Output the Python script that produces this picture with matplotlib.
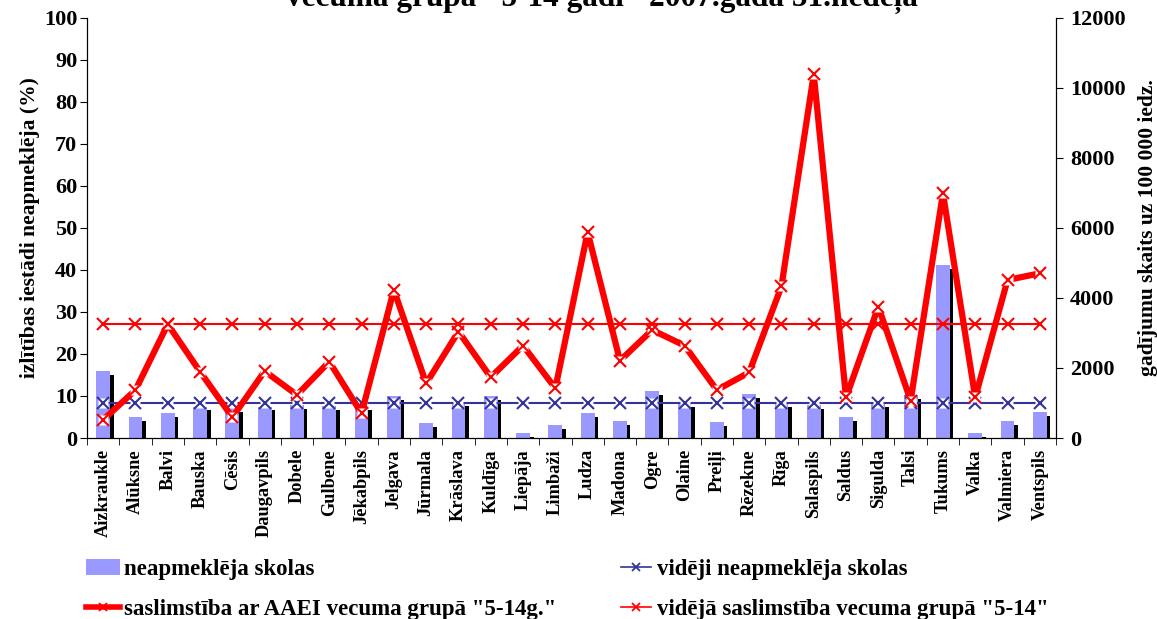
import numpy as np
import matplotlib
matplotlib.use("Agg")
import matplotlib.pyplot as plt
from matplotlib.lines import Line2D
from matplotlib.patches import Patch

plt.rcParams['font.family'] = ['Liberation Serif', 'DejaVu Serif']
plt.rcParams['font.weight'] = 'bold'

# rajoni
rajoni = ['Aizkraukle', 'Alūksne', 'Balvi', 'Bauska', 'Cēsis', 'Daugavpils', 'Dobele',
          'Gulbene', 'Jēkabpils', 'Jelgava', 'Jūrmala', 'Krāslava', 'Kuldīga', 'Liepāja',
          'Limbaži', 'Ludza', 'Madona', 'Ogre', 'Olaine', 'Preiļi', 'Rēzekne', 'Rīga',
          'Salaspils', 'Saldus', 'Sigulda', 'Talsi', 'Tukums', 'Valka', 'Valmiera', 'Ventspils']
# neapmeklēja skolas (%)
neapmekleja = [16.0, 4.9, 6.0, 7.5, 7.1, 7.5, 7.9, 7.6, 7.5, 10.1, 3.5, 8.5, 10.0, 1.3, 3.0,
               6.0, 4.0, 11.2, 8.4, 3.8, 10.4, 8.4, 7.9, 5.1, 8.4, 10.2, 41.2, 1.3, 4.0, 6.3]
videji_neapm = 8.4
# saslimstība uz 100 000 iedz.
saslimstiba = [520, 1370, 3250, 1895, 590, 1910, 1230, 2180, 705, 4230, 1560, 3040, 1735,
               2640, 1420, 5880, 2210, 3085, 2640, 1370, 1875, 4330, 10390, 1160, 3750,
               1070, 6990, 1160, 4515, 4705]
videja_sasl = 3250

x = np.arange(len(rajoni))
n = len(rajoni)
bar_c = '#9999FF'
navy = '#333399'

fig = plt.figure(figsize=(11.57, 6.19), dpi=100)
ax = fig.add_axes([0.0752, 0.2924, 0.8375, 0.6786])
ax2 = ax.twinx()

# bar shadow + bars
ax.bar(x + 0.11, np.array(neapmekleja) - 0.95, width=0.43, color='black', zorder=1)
ax.bar(x, neapmekleja, width=0.43, color=bar_c, zorder=2)

# vidēji neapmeklēja
ax.plot(x, [videji_neapm] * n, color=navy, lw=1.5, zorder=3)
ax.plot(x, [videji_neapm] * n, ls='none', marker='s', ms=7, mfc='white', mec='none', zorder=4)
ax.plot(x, [videji_neapm] * n, ls='none', marker='x', ms=8, mew=1.5, color=navy, zorder=5)

# saslimstība
ax2.plot(x, [videja_sasl] * n, color='red', lw=1.5, zorder=3)
ax2.plot(x, [videja_sasl] * n, ls='none', marker='x', ms=8, mew=1.5, color='red', zorder=5)
ax2.plot(x, saslimstiba, color='red', lw=4.5, zorder=3)
ax2.plot(x, saslimstiba, ls='none', marker='s', ms=7, mfc='white', mec='none', zorder=4)
ax2.plot(x, saslimstiba, ls='none', marker='x', ms=8, mew=1.5, color='red', zorder=5)

ax.set_xlim(-0.5, n - 0.5)
ax.set_ylim(0, 100)
ax2.set_ylim(0, 12000)
ax.set_yticks(np.arange(0, 101, 10))
ax2.set_yticks(np.arange(0, 12001, 2000))
ax.set_xticks(x)
ax.set_xticklabels(rajoni, rotation=90, fontsize=13.2, fontweight='bold')
ax.set_xticks(np.arange(-0.5, n, 1), minor=True)
ax.tick_params(axis='x', which='major', length=0, pad=8)
ax.tick_params(axis='x', which='minor', length=5, direction='out')
ax.tick_params(axis='y', labelsize=16, length=5, direction='out', pad=2)
ax2.tick_params(axis='y', labelsize=16, length=5, direction='out', pad=5)
for lab in ax.get_yticklabels() + ax2.get_yticklabels():
    lab.set_fontweight('bold')

for a in (ax, ax2):
    a.spines['top'].set_visible(False)
    a.patch.set_visible(False)

ax.set_ylabel('izlītības iestādi neapmeklēja (%)', fontsize=15.5, fontweight='bold', labelpad=3)
ax2.set_ylabel('gadījumu skaits uz 100 000 iedz.', fontsize=15.5, fontweight='bold', labelpad=9)

fig.text(0.52, 1.002, 'vecuma grupā "5-14 gadi" 2007.gada 51.nedēļa', ha='center', va='center',
         fontsize=22.5, fontweight='bold')

h_bar = Patch(facecolor=bar_c, edgecolor='none')
h_sasl = Line2D([], [], color='red', lw=4, marker='x', ms=6, mew=1.3)
h_vneap = Line2D([], [], color=navy, lw=1.2, marker='x', ms=6, mew=1.3)
h_vsasl = Line2D([], [], color='red', lw=1.2, marker='x', ms=6, mew=1.3)
lprop = {'size': 16.5, 'weight': 'bold'}
fig.legend([h_bar, h_sasl], ['neapmeklēja skolas', 'saslimstība ar AAEI vecuma grupā "5-14g."'],
           loc='upper left', bbox_to_anchor=(0.064, 0.115), frameon=False, prop=lprop,
           handlelength=1.5, handletextpad=0.2, labelspacing=0.8, borderpad=0)
fig.legend([h_vneap, h_vsasl], ['vidēji neapmeklēja skolas', 'vidējā saslimstība vecuma grupā "5-14"'],
           loc='upper left', bbox_to_anchor=(0.527, 0.115), frameon=False, prop=lprop,
           handlelength=1.3, handletextpad=0.25, labelspacing=0.8, borderpad=0)

fig.savefig('out.png', dpi=100)
